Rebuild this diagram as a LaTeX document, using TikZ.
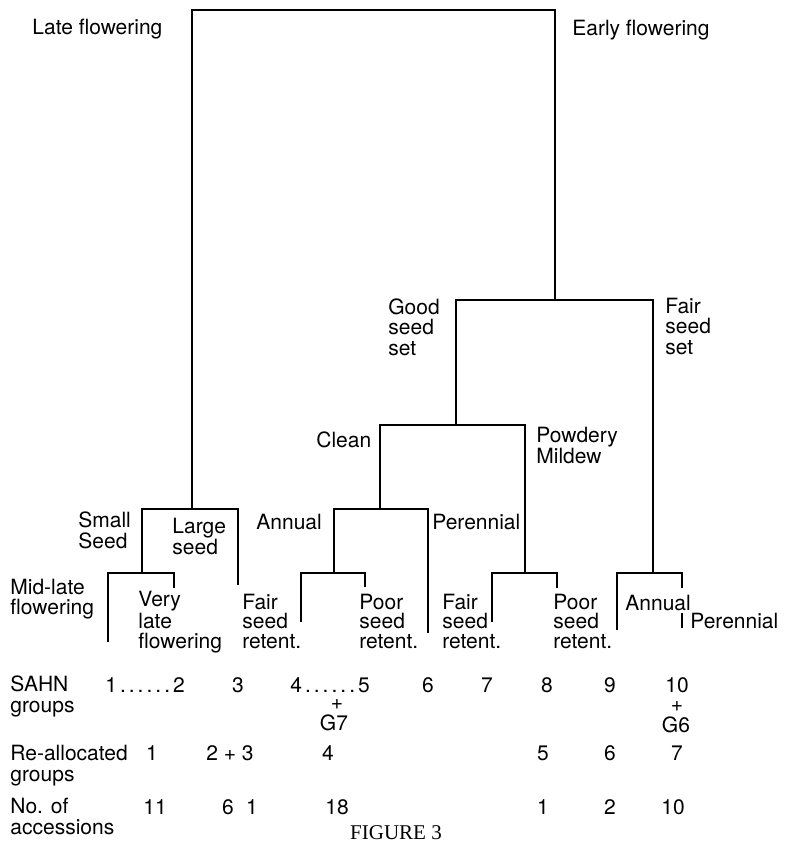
\documentclass[tikz,border=0pt]{standalone}
\usepackage{fontspec}
\setmainfont{TeX Gyre Heros}
\newfontfamily\capfont{Liberation Serif}
\usetikzlibrary{calc}

\newcommand{\sixdots}{\kern1.5pt.\kern1.5pt.\kern1.5pt.\kern1.5pt.\kern1.5pt.\kern1.5pt.\kern1.5pt}

\begin{document}
\begin{tikzpicture}[x=0.5pt, y=-0.5pt,
    branch/.style={line width=1.3pt},
    lab/.style={anchor=base west, inner sep=0pt, align=left, font=\fontsize{10.5pt}{10.25pt}\selectfont},
    leaflab/.style={lab, font=\fontsize{10.5pt}{9.6pt}\selectfont},
    num/.style={anchor=base, inner sep=0pt, font=\fontsize{10.5pt}{10.25pt}\selectfont}]
    \clip (0,0) rectangle (784,841);

    \coordinate (top) at (373,10);
    \coordinate (late) at (192,509);
    \coordinate (early) at (555,300);
    \coordinate (small) at (142,573);
    \coordinate (large) at (238,585);
    \coordinate (midlate) at (108,642);
    \coordinate (verylate) at (174,588);
    \coordinate (good) at (456,425);
    \coordinate (fairset) at (653,573);
    \coordinate (clean) at (380,509);
    \coordinate (mildew) at (525,573);
    \coordinate (annual) at (334,573);
    \coordinate (perennial) at (428,633);
    \coordinate (fairA) at (301,622);
    \coordinate (poorA) at (365,587);
    \coordinate (fairM) at (492,622);
    \coordinate (poorM) at (557,588);
    \coordinate (annR) at (617,630);
    \coordinate (perR) at (682,588);
    \coordinate (perRa) at (682,613);
    \coordinate (perRb) at (682,628);

    \draw[branch] (late) |- (top) -| (early);
    \draw[branch] (small) |- (late) -| (large);
    \draw[branch] (midlate) |- (small) -| (verylate);
    \draw[branch] (good) |- (early) -| (fairset);
    \draw[branch] (clean) |- (good) -| (mildew);
    \draw[branch] (annual) |- (clean) -| (perennial);
    \draw[branch] (fairA) |- (annual) -| (poorA);
    \draw[branch] (fairM) |- (mildew) -| (poorM);
    \draw[branch] (annR) |- (fairset) -| (perR);
    \draw[branch] (perRa) -- (perRb);

    \node[lab] (lateF) at (32,34) {Late flowering};
    \node[lab] (earlyF) at (572,35) {Early flowering};
    \node[lab] (goodS) at (388,355) {Good\\seed\\set};
    \node[lab] (fairS) at (665,354) {Fair\\seed\\set};
    \node[lab] (cleanL) at (316,447) {Clean};
    \node[lab] (mildewL) at (536,463) {Powdery\\Mildew};
    \node[lab] (smallS) at (78,548) {Small\\Seed};
    \node[lab] (largeS) at (172,554) {Large\\seed};
    \node[lab] (annualM) at (256,529) {Annual};
    \node[lab] (perennialM) at (432,529) {Perennial};
    \node[leaflab] (midlateL) at (10,614) {Mid-late\\flowering};
    \node[leaflab] (verylateL) at (138,648) {Very\\late\\flowering};
    \node[leaflab] (fairL1) at (242,648) {Fair\\seed\\retent.};
    \node[leaflab] (poorL1) at (359,648) {Poor\\seed\\retent.};
    \node[leaflab] (fairL2) at (442,648) {Fair\\seed\\retent.};
    \node[leaflab] (poorL2) at (553,648) {Poor\\seed\\retent.};
    \node[lab] (annualR) at (625,610) {Annual};
    \node[lab] (perennialR) at (690,628) {Perennial};

    \node[lab] (sahn) at (10,712) {SAHN\\groups};
    \node[lab] (realloc) at (10,781) {Re-allocated\\groups};
    \node[lab] (noacc) at (10,834) {No. of\\accessions};

    \node[lab] (s12) at (105,692) {1\sixdots 2};
    \node[num] (s3) at (238,692) {3};
    \node[lab] (s45) at (290,692) {4\sixdots 5};
    \node[num, anchor=center] (s45p) at (337,705) {+};
    \node[num] (s45g) at (334,730) {G7};
    \node[num] (s6) at (428,692) {6};
    \node[num] (s7) at (487,692) {7};
    \node[num] (s8) at (547,692) {8};
    \node[num] (s9) at (610,692) {9};
    \node[num] (s10) at (677,692) {10};
    \node[num, anchor=center] (s10p) at (677,707) {+};
    \node[num] (s10g) at (676,732) {G6};

    \node[num] (r1) at (152,760) {1};
    \node[num] (r23) at (230,760) {2 + 3};
    \node[num] (r4) at (328,760) {4};
    \node[num] (r5) at (543,760) {5};
    \node[num] (r6) at (610,760) {6};
    \node[num] (r7) at (677,760) {7};

    \node[num] (n11) at (155,814) {11};
    \node[num] (n6) at (228,814) {6};
    \node[num] (n1a) at (252,814) {1};
    \node[num] (n18) at (337,814) {18};
    \node[num] (n1b) at (543,814) {1};
    \node[num] (n2) at (610,814) {2};
    \node[num] (n10) at (673,814) {10};

    \node[num, font=\capfont\fontsize{10.5pt}{12pt}\selectfont] (fig) at (396,839) {FIGURE 3};
\end{tikzpicture}
\end{document}
